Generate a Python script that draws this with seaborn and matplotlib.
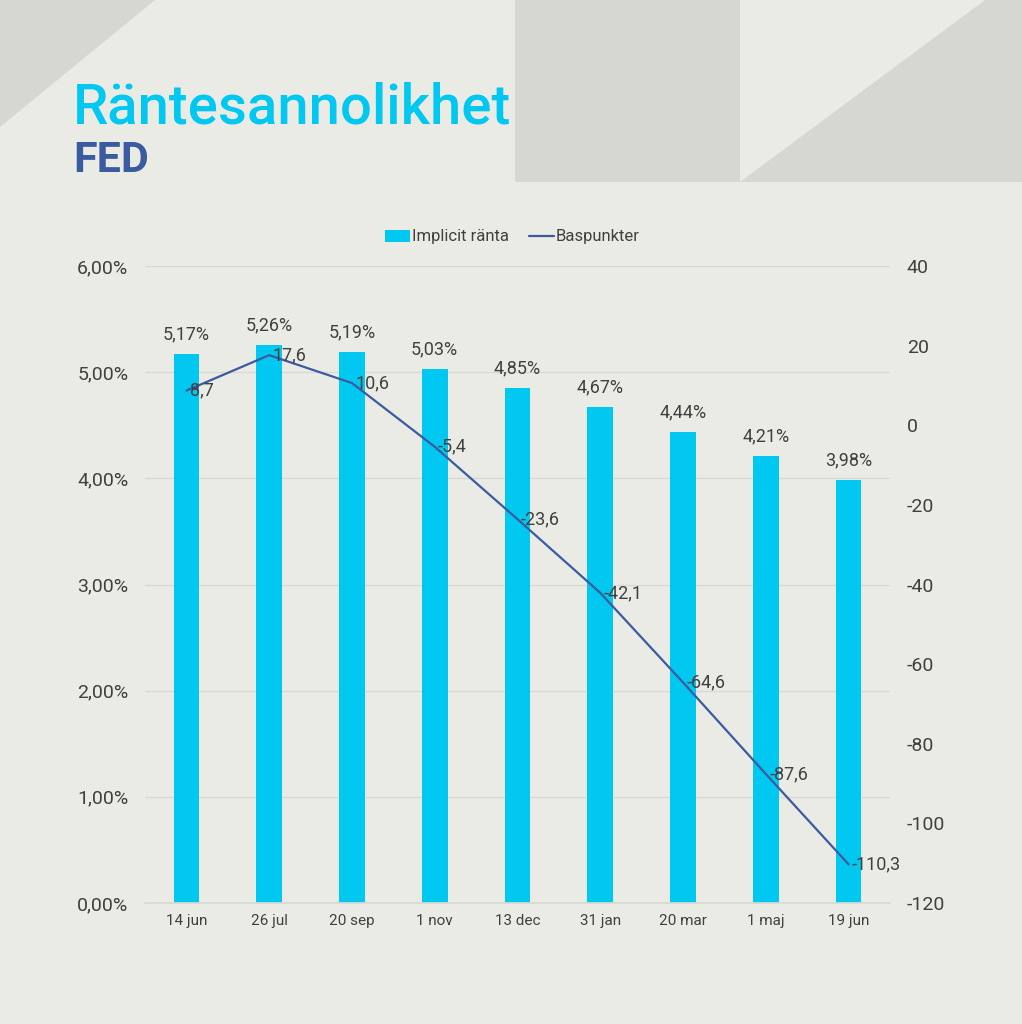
import numpy as np
import pandas as pd
import seaborn as sns
import matplotlib.pyplot as plt
from matplotlib import font_manager
from matplotlib.patches import Polygon, Patch
from matplotlib.lines import Line2D

dates = ["14 jun", "26 jul", "20 sep", "1 nov", "13 dec", "31 jan", "20 mar", "1 maj", "19 jun"]
rate = [5.17, 5.26, 5.19, 5.03, 4.85, 4.67, 4.44, 4.21, 3.98]
bps = [8.7, 17.6, 10.6, -5.4, -23.6, -42.1, -64.6, -87.6, -110.3]

bg = "#EBEBE6"
shape = "#D7D7D1"
cyan = "#00C8F0"
navy = "#3A5BA0"
txt = "#404040"

sns.set_theme(style="white")
plt.rcParams["font.family"] = ["Roboto", "DejaVu Sans"]

installed = {f.name for f in font_manager.fontManager.ttflist}
if "Liberation Sans Narrow" in installed:
    title_font, title_size, title_weight = "Liberation Sans Narrow", 42, "normal"
else:
    title_font, title_size, title_weight = "Roboto", 40.5, "medium"

fig = plt.figure(figsize=(10.22, 10.24), dpi=100, facecolor=bg)

# background decorations (pixel coords, y from top)
W, H = 1022, 1024
def px(x, y):
    return (x / W, 1 - y / H)
for pts in ([(0, 0), (155, 0), (0, 127)],
            [(515, 0), (740, 0), (740, 182), (515, 182)],
            [(985, 0), (1022, 0), (1022, 182), (740, 182)]):
    fig.patches.append(Polygon([px(*p) for p in pts], closed=True, transform=fig.transFigure,
                               facecolor=shape, edgecolor="none", zorder=0))

fig.text(73 / W, 1 - 123 / H, "Räntesannolikhet", color=cyan, fontsize=title_size,
         family=[title_font, "DejaVu Sans"], fontweight=title_weight, va="baseline")
fig.text(73 / W, 1 - 172 / H, "FED", color=navy, fontsize=31,
         family=[title_font, "DejaVu Sans"], fontweight="bold", va="baseline")

ax = fig.add_axes([145 / W, 1 - 903 / H, 745 / W, 637 / H])
ax.set_facecolor(bg)
df = pd.DataFrame({"datum": dates, "ranta": rate, "bp": bps})
sns.barplot(data=df, x="datum", y="ranta", color=cyan, width=0.31, saturation=1,
            linewidth=0, ax=ax, zorder=2)
ax.set_ylim(0, 6)
ax.set_xlim(-0.5, 8.5)
ax.set_yticks(np.arange(0, 7, 1))
ax.set_yticklabels([f"{v:.2f}%".replace(".", ",") for v in range(7)], color=txt, fontsize=14)
ax.set_xticklabels(dates, color=txt, fontsize=11)
ax.grid(axis="y", color="#D9D9D4", linewidth=1, zorder=0)
ax.set_axisbelow(True)
for s in ["top", "right", "left"]:
    ax.spines[s].set_visible(False)
ax.spines["bottom"].set_color("#D9D9D4")
ax.tick_params(axis="y", length=0, pad=12)
ax.tick_params(axis="x", length=0, pad=8)
ax.set_xlabel("")
ax.set_ylabel("")
for i, v in enumerate(rate):
    ax.text(i, v + 0.1, f"{v:.2f}%".replace(".", ","), ha="center", va="bottom",
            color=txt, fontsize=13)

ax2 = ax.twinx()
sns.lineplot(x=np.arange(len(dates)), y=bps, color=navy, linewidth=1.6, ax=ax2)
ax2.set_ylim(-120, 40)
ax2.set_yticks(np.arange(-120, 41, 20))
ax2.set_yticklabels([str(v) for v in range(-120, 41, 20)], color=txt, fontsize=14)
ax2.tick_params(axis="y", length=0, pad=12)
for s in ["top", "right", "left", "bottom"]:
    ax2.spines[s].set_visible(False)
for i, v in enumerate(bps):
    ax2.text(i + 0.04, v, f"{v:.1f}".replace(".", ","), ha="left", va="center",
             color=txt, fontsize=13)

handles = [Patch(facecolor=cyan, edgecolor="none"), Line2D([0], [0], color=navy, linewidth=1.6)]
fig.legend(handles, ["Implicit ränta", "Baspunkter"], loc="center",
           bbox_to_anchor=(512 / W, 1 - 237 / H), ncol=2, frameon=False, fontsize=12,
           labelcolor=txt, handlelength=1.5, handleheight=0.7, handletextpad=0.1,
           columnspacing=1.2)

fig.savefig("out.png", dpi=100, facecolor=bg)
